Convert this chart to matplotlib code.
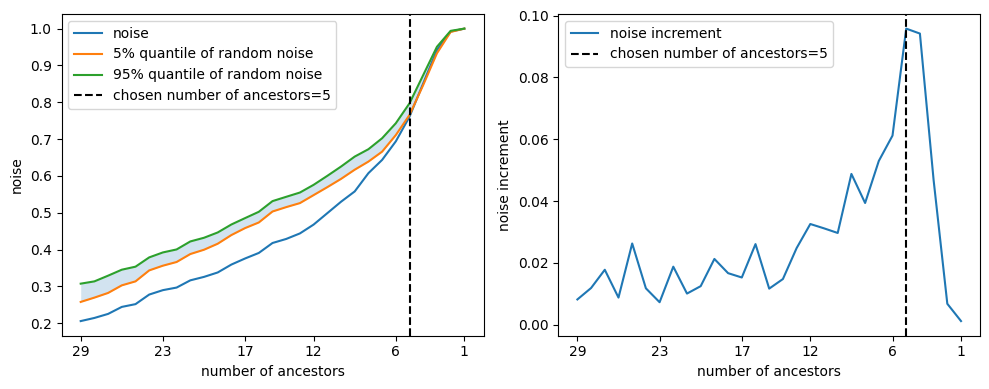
import matplotlib.pyplot as plt
import numpy as np

# number of ancestors, from 29 down to 1
ancestors = list(range(29, 0, -1))

noise = [0.206, 0.2145, 0.2255, 0.2445, 0.252, 0.278, 0.290, 0.297, 0.3166, 0.326,
         0.338, 0.3595, 0.376, 0.391, 0.418, 0.429, 0.444, 0.468, 0.499, 0.530,
         0.558, 0.6076, 0.6436, 0.694, 0.761, 0.8515, 0.9417, 0.992, 1.0]
q05 = [0.258, 0.2697, 0.2824, 0.303, 0.3138, 0.3436, 0.3564, 0.3664, 0.388, 0.3997,
       0.416, 0.4396, 0.4585, 0.4737, 0.5035, 0.5154, 0.5263, 0.548, 0.5696, 0.592,
       0.617, 0.639, 0.666, 0.711, 0.7656, 0.847, 0.933, 0.991, 1.0]
q95 = [0.3076, 0.3138, 0.3293, 0.3455, 0.3537, 0.3789, 0.3924, 0.4005, 0.4222, 0.4322,
       0.4466, 0.4683, 0.4856, 0.5027, 0.5317, 0.5434, 0.555, 0.5759, 0.6003, 0.6255,
       0.6526, 0.6726, 0.7024, 0.7431, 0.7973, 0.874, 0.9507, 0.994, 1.0]
increment = [0.0082, 0.0119, 0.0178, 0.0088, 0.0263, 0.0118, 0.0073, 0.0188, 0.0101, 0.0125,
             0.0213, 0.0167, 0.0153, 0.0261, 0.0117, 0.0148, 0.0248, 0.0326, 0.0312, 0.0297,
             0.0488, 0.0394, 0.0530, 0.0612, 0.0958, 0.0942, 0.0468, 0.0068, 0.0012]
chosen = 5

xticks = [29, 23, 17, 12, 6, 1]

fig, (ax1, ax2) = plt.subplots(1, 2, figsize=(9.89, 3.89), dpi=100)
fig.subplots_adjust(left=0.0622, right=0.9911, top=0.964, bottom=0.137, wspace=0.177)

ax1.plot(ancestors, noise, label='noise')
ax1.plot(ancestors, q05, label='5% quantile of random noise')
ax1.plot(ancestors, q95, label='95% quantile of random noise')
ax1.fill_between(ancestors, q05, q95, color='C0', alpha=0.2, linewidth=0)
ax1.axvline(chosen, color='k', linestyle='--', label=f'chosen number of ancestors={chosen}')
ax1.invert_xaxis()
ax1.set_xticks(xticks)
ax1.set_xlabel('number of ancestors')
ax1.set_ylabel('noise')
ax1.legend(loc='upper left')

ax2.plot(ancestors, increment, label='noise increment')
ax2.axvline(chosen, color='k', linestyle='--', label=f'chosen number of ancestors={chosen}')
ax2.invert_xaxis()
ax2.set_xticks(xticks)
ax2.set_xlabel('number of ancestors')
ax2.set_ylabel('noise increment')
ax2.legend(loc='upper left')

fig.savefig('out.png')
